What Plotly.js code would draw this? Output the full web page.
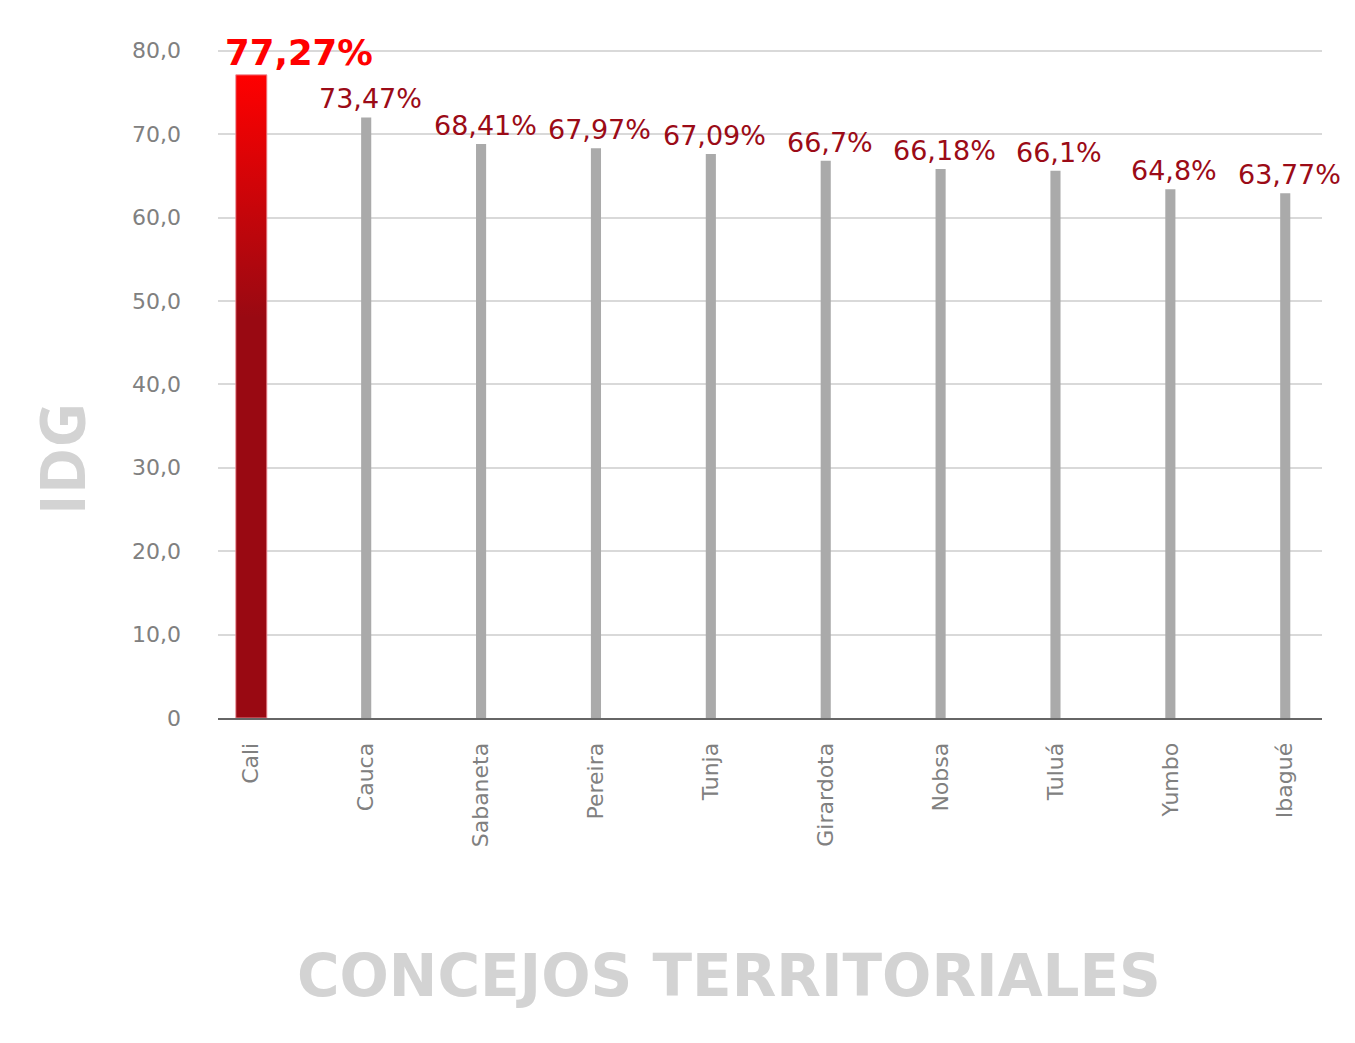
<!DOCTYPE html>
<html>
<head>
<meta charset="utf-8">
<script src="https://cdn.plot.ly/plotly-3.0.1.min.js"></script>
<style>html,body{margin:0;padding:0;background:#fff;}#chart{width:1355px;height:1043px;}</style>
</head>
<body>
<div id="chart"></div>
<script>
const categories = ['Cali','Cauca','Sabaneta','Pereira','Tunja','Girardota','Nobsa','Tuluá','Yumbo','Ibagué'];
const barValues = [77.1, 72.0, 68.8, 68.3, 67.6, 66.8, 65.8, 65.6, 63.4, 62.9];
const labelTexts = ['77,27%','73,47%','68,41%','67,97%','67,09%','66,7%','66,18%','66,1%','64,8%','63,77%'];
const yTickVals = [0, 10, 20, 30, 40, 50, 60, 70, 80];
const yTickText = ['0','10,0','20,0','30,0','40,0','50,0','60,0','70,0','80,0'];
const yTitle = 'IDG';
const xTitle = 'CONCEJOS TERRITORIALES';

const FONT = "'DejaVu Sans', 'Noto Sans', sans-serif";
const FONT2 = "'Open Sans', 'Noto Sans', sans-serif";
const idx = categories.map((c, i) => i);

// highlighted first bar (gradient) built from its value
const hw = 0.135;
const c0 = idx[0], v0 = barValues[0];
const highlight = {
  type: 'scatter', mode: 'lines',
  x: [c0 - hw, c0 - hw, c0 + hw, c0 + hw, c0 - hw],
  y: [0, v0, v0, 0, 0],
  fill: 'toself',
  fillgradient: {type: 'vertical', start: 48, stop: v0,
    colorscale: [[0, '#990912'], [1, '#ff0000']]},
  line: {color: 'rgba(235,140,150,0.9)', width: 1},
  hoverinfo: 'skip', showlegend: false
};

const others = {
  type: 'bar',
  x: idx.slice(1), y: barValues.slice(1),
  width: 0.088,
  marker: {color: '#aaaaaa', line: {width: 0}},
  hoverinfo: 'skip', showlegend: false
};

const annotations = idx.map(i => ({
  x: i, y: barValues[i], xref: 'x', yref: 'y',
  text: i === 0 ? '<b>' + labelTexts[i] + '</b>' : labelTexts[i],
  showarrow: false, xanchor: 'center', yanchor: 'bottom',
  xshift: i === 0 ? 48 : 4, yshift: i === 0 ? 0 : 1,
  font: i === 0 ? {family: FONT, size: 35.5, color: '#ff0000'} : {family: FONT, size: 27, color: '#9b0b17'}
}));
annotations.push({
  text: '<b>' + yTitle + '</b>', xref: 'paper', yref: 'paper',
  x: -0.143, y: 0.387, xanchor: 'center', yanchor: 'middle', textangle: -90,
  showarrow: false, font: {family: FONT2, size: 63, color: '#d3d3d3'}
});
annotations.push({
  text: '<b>' + xTitle + '</b>', xref: 'paper', yref: 'paper',
  x: 0.463, y: -0.385, xanchor: 'center', yanchor: 'middle',
  showarrow: false, font: {family: FONT, size: 58, color: '#d3d3d3'}
});

const layout = {
  width: 1355, height: 1043,
  margin: {l: 218, r: 33, t: 49, b: 325},
  paper_bgcolor: '#ffffff', plot_bgcolor: '#ffffff',
  font: {family: FONT},
  xaxis: {
    type: 'linear', range: [-0.29, 9.32],
    tickvals: idx, ticktext: categories, tickangle: -90,
    ticks: '', ticklabelstandoff: 14,
    tickfont: {family: FONT, size: 22, color: '#808080'},
    showgrid: false, zeroline: false,
    showline: true, linecolor: '#666666', linewidth: 2
  },
  yaxis: {
    range: [0, 80.2], tickvals: yTickVals, ticktext: yTickText,
    ticks: '', ticklabelstandoff: 36,
    tickfont: {family: FONT, size: 22, color: '#808080'},
    showgrid: true, gridcolor: '#d9d9d9', gridwidth: 2,
    zeroline: false, showline: false
  },
  annotations: annotations,
  showlegend: false
};

Plotly.newPlot('chart', [others, highlight], layout, {displayModeBar: false, staticPlot: true});
</script>
</body>
</html>
